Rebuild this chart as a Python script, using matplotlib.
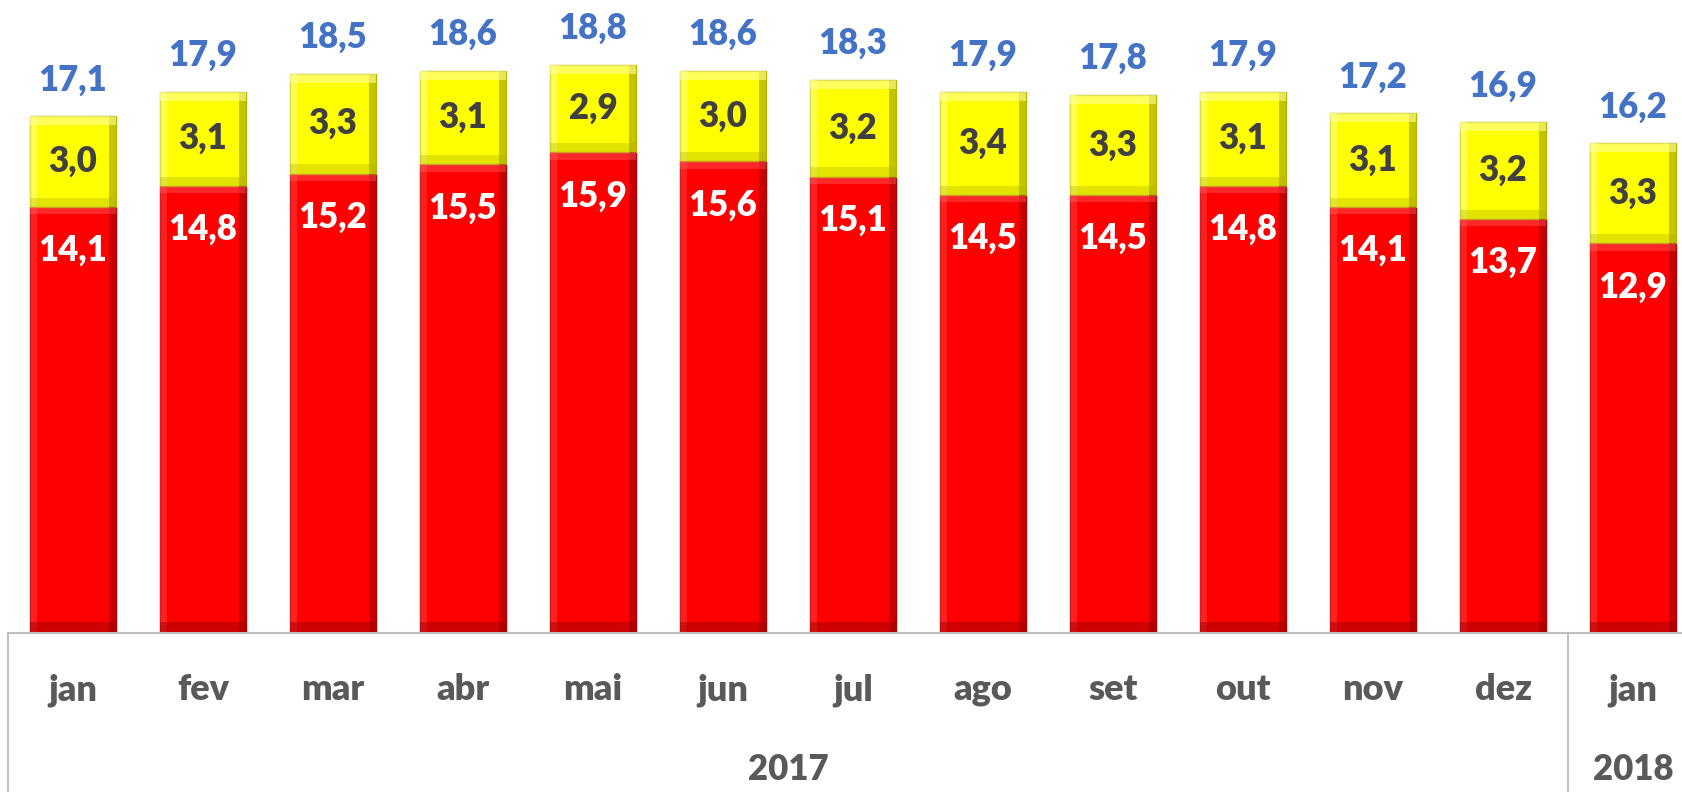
import matplotlib
matplotlib.use('Agg')
import numpy as np
import matplotlib.pyplot as plt

# --- dados ---
meses = ['jan', 'fev', 'mar', 'abr', 'mai', 'jun', 'jul', 'ago', 'set', 'out', 'nov', 'dez', 'jan']
anos = ['2017', '2018']
meses_por_ano = [12, 1]
vermelho = [14.1, 14.8, 15.2, 15.5, 15.9, 15.6, 15.1, 14.5, 14.5, 14.8, 14.1, 13.7, 12.9]
amarelo = [3.0, 3.1, 3.3, 3.1, 2.9, 3.0, 3.2, 3.4, 3.3, 3.1, 3.1, 3.2, 3.3]
total = [17.1, 17.9, 18.5, 18.6, 18.8, 18.6, 18.3, 17.9, 17.8, 17.9, 17.2, 16.9, 16.2]

plt.rcParams['font.family'] = ['Lato', 'DejaVu Sans']
PESO = 'heavy'

fig = plt.figure(figsize=(16.82, 7.92), dpi=100)
# eixo um pouco mais largo que a figura (o original está cortado à direita)
ax = fig.add_axes([8 / 1682, 159 / 792, 1690 / 1682, 633 / 792])

x = np.arange(len(meses))
w = 0.66
ax.bar(x, vermelho, width=w, color='#FF0000', edgecolor='#B00000', linewidth=1)
ax.bar(x, amarelo, width=w, bottom=vermelho, color='#FFFF00', edgecolor='#B8B800', linewidth=1)

# efeito de bisel simples
s = 0.05
ax.bar(x + w / 2 - s / 2, vermelho, width=s, color='#A00000', alpha=0.6, linewidth=0)
ax.bar(x + w / 2 - s / 2, amarelo, width=s, bottom=vermelho, color='#8A8A00', alpha=0.5, linewidth=0)
ax.bar(x - w / 2 + s / 2, vermelho, width=s, color='#FF5050', alpha=0.4, linewidth=0)
ax.bar(x - w / 2 + s / 2, amarelo, width=s, bottom=vermelho, color='#FFFF99', alpha=0.5, linewidth=0)
ax.bar(x, [0.35] * len(x), width=w, color='#A00000', alpha=0.5, linewidth=0)
ax.bar(x, [0.3] * len(x), width=w, bottom=vermelho, color='#B0B000', alpha=0.35, linewidth=0)
ax.bar(x, [0.3] * len(x), width=w, bottom=np.array(total) - 0.3, color='#FFFF99', alpha=0.6, linewidth=0)
ax.bar(x, [0.25] * len(x), width=w, bottom=np.array(vermelho) - 0.25, color='#FF7070', alpha=0.35, linewidth=0)

def fmt(v):
    return f'{v:.1f}'.replace('.', ',')

for i in x:
    ax.text(i, vermelho[i] - 1.45, fmt(vermelho[i]), ha='center', va='center',
            color='white', fontsize=25, fontweight=PESO)
    ax.text(i, vermelho[i] + amarelo[i] / 2, fmt(amarelo[i]), ha='center', va='center',
            color='#404040', fontsize=25, fontweight=PESO)
    ax.text(i, total[i] + 1.2, fmt(total[i]), ha='center', va='center',
            color='#4472C4', fontsize=25, fontweight=PESO)

ax.set_xlim(-0.5, len(meses) - 0.5)
ax.set_ylim(0, 633 / 30.23)
for sp in ax.spines.values():
    sp.set_visible(False)
ax.set_xticks([])
ax.set_yticks([])

tr = ax.get_xaxis_transform()
cinza = '#BFBFBF'
ax.plot([-0.5, len(meses) - 0.5], [0, 0], color=cinza, lw=1.5, transform=tr, clip_on=False)

for i, m in enumerate(meses):
    ax.text(i, -0.09, m, transform=tr, ha='center', va='center',
            color='#595959', fontsize=26, fontweight=PESO)

inicio = 0
for ano, n in zip(anos, meses_por_ano):
    ax.plot([inicio - 0.5, inicio - 0.5], [0, -0.3], color=cinza, lw=1.5, transform=tr, clip_on=False)
    ax.text(inicio + (n - 1) / 2, -0.215, ano, transform=tr, ha='center', va='center',
            color='#595959', fontsize=25, fontweight=PESO)
    inicio += n

fig.savefig('out.png', dpi=100)
